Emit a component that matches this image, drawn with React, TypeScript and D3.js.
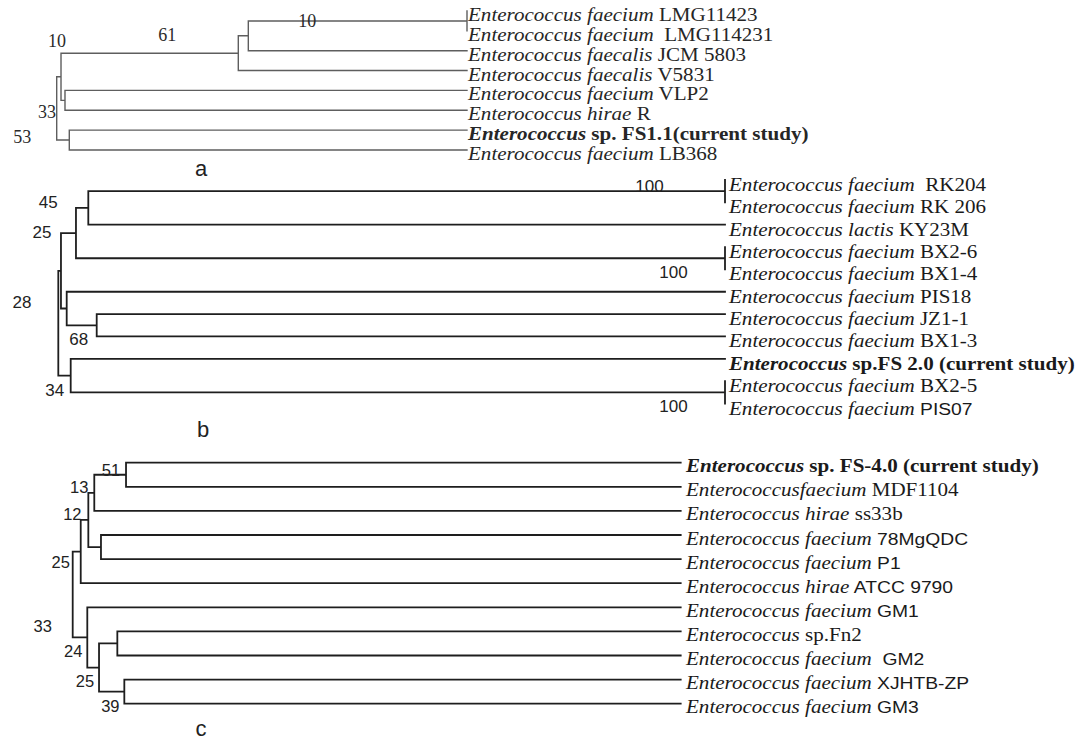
import React from "react";
import * as d3 from "d3";

// ---------- DATA ----------
type Leaf = { genus: string; epithet: string; strain: string; bold?: boolean; sans?: boolean };
type TNode = { id: string; children: (string | number)[]; dist: number; support: string };

const leavesA: Leaf[] = [
  { genus: "Enterococcus", epithet: " faecium", strain: " LMG11423" },
  { genus: "Enterococcus", epithet: " faecium", strain: "  LMG114231" },
  { genus: "Enterococcus", epithet: " faecalis", strain: " JCM 5803" },
  { genus: "Enterococcus", epithet: " faecalis", strain: " V5831" },
  { genus: "Enterococcus", epithet: " faecium", strain: " VLP2" },
  { genus: "Enterococcus", epithet: " hirae", strain: " R" },
  { genus: "Enterococcus", epithet: "", strain: " sp. FS1.1(current study)", bold: true },
  { genus: "Enterococcus", epithet: " faecium", strain: " LB368" },
];
const nodesA: TNode[] = [
  { id: "root", children: ["nX", "nF"], dist: 0, support: "" },
  { id: "nX", children: ["nV", "nVH"], dist: 1.05, support: "10" },
  { id: "nV", children: ["nJ", 3], dist: 44.26, support: "61" },
  { id: "nJ", children: ["p01", 2], dist: 46.7, support: "10" },
  { id: "p01", children: [0, 1], dist: 100, support: "" },
  { id: "nVH", children: [4, 5], dist: 2.02, support: "33" },
  { id: "nF", children: [6, 7], dist: 3.07, support: "53" },
];

const leavesB: Leaf[] = [
  { genus: "Enterococcus", epithet: " faecium", strain: "  RK204" },
  { genus: "Enterococcus", epithet: " faecium", strain: " RK 206" },
  { genus: "Enterococcus", epithet: " lactis", strain: " KY23M" },
  { genus: "Enterococcus", epithet: " faecium", strain: " BX2-6" },
  { genus: "Enterococcus", epithet: " faecium", strain: " BX1-4" },
  { genus: "Enterococcus", epithet: " faecium", strain: " PIS18" },
  { genus: "Enterococcus", epithet: " faecium", strain: " JZ1-1" },
  { genus: "Enterococcus", epithet: " faecium", strain: " BX1-3" },
  { genus: "Enterococcus", epithet: "", strain: " sp.FS 2.0 (current study)", bold: true },
  { genus: "Enterococcus", epithet: " faecium", strain: " BX2-5" },
  { genus: "Enterococcus", epithet: " faecium", strain: " PIS07", sans: true },
];
const nodesB: TNode[] = [
  { id: "root", children: ["nU", "n34"], dist: 0, support: "" },
  { id: "nU", children: ["n25", "nP"], dist: 0.4, support: "28" },
  { id: "n25", children: ["n45", "p34"], dist: 2.65, support: "25" },
  { id: "n45", children: ["p01", 2], dist: 4.5, support: "45" },
  { id: "p01", children: [0, 1], dist: 100, support: "100" },
  { id: "p34", children: [3, 4], dist: 100, support: "100" },
  { id: "nP", children: [5, "n68"], dist: 1.26, support: "" },
  { id: "n68", children: [6, 7], dist: 5.76, support: "68" },
  { id: "n34", children: [8, "p910"], dist: 1.86, support: "34" },
  { id: "p910", children: [9, 10], dist: 100, support: "100" },
];

const leavesC: Leaf[] = [
  { genus: "Enterococcus", epithet: "", strain: " sp. FS-4.0 (current study)", bold: true },
  { genus: "Enterococcus", epithet: "faecium", strain: " MDF1104" },
  { genus: "Enterococcus", epithet: " hirae", strain: " ss33b" },
  { genus: "Enterococcus", epithet: " faecium", strain: " 78MgQDC", sans: true },
  { genus: "Enterococcus", epithet: " faecium", strain: " P1", sans: true },
  { genus: "Enterococcus", epithet: " hirae", strain: " ATCC 9790", sans: true },
  { genus: "Enterococcus", epithet: " faecium", strain: " GM1", sans: true },
  { genus: "Enterococcus", epithet: "", strain: " sp.Fn2" },
  { genus: "Enterococcus", epithet: " faecium", strain: "  GM2", sans: true },
  { genus: "Enterococcus", epithet: " faecium", strain: " XJHTB-ZP", sans: true },
  { genus: "Enterococcus", epithet: " faecium", strain: " GM3", sans: true },
];
const nodesC: TNode[] = [
  { id: "root", children: ["n25a", "n24"], dist: 0, support: "33" },
  { id: "n25a", children: ["n12", 5], dist: 1.32, support: "25" },
  { id: "n12", children: ["n13", "nP1"], dist: 2.57, support: "12" },
  { id: "n13", children: ["n51", 2], dist: 3.55, support: "13" },
  { id: "n51", children: [0, 1], dist: 8.77, support: "51" },
  { id: "nP1", children: [3, 4], dist: 4.65, support: "" },
  { id: "n24", children: [6, "n25b"], dist: 2.4, support: "24" },
  { id: "n25b", children: ["nFn", "n39"], dist: 4.33, support: "25" },
  { id: "nFn", children: [7, 8], dist: 7.34, support: "" },
  { id: "n39", children: [9, 10], dist: 8.49, support: "39" },
];

const panelLetters = ["a", "b", "c"];

// ---------- LAYOUT ----------
const SERIF = "'Liberation Serif', 'Times New Roman', serif";
const SANS = "'Liberation Sans', Arial, sans-serif";
const SX = 1.17;

const layouts = [
  {
    leaves: leavesA, nodes: nodesA, rootX: 56.7, leafX: 467, y0: 11, dy: 19.85,
    textX: 468, baseOff: 10, stroke: "#5e5e5e", sw: 1.4, textColor: "#262626",
    supFont: SERIF, supSize: 18, supColor: "#2a2a2a",
    supOff: { nJ: [59, -15], nV: [-71, -18], nX: [-4, -36], nVH: [-18, 12], nF: [-47, -3] } as Record<string, number[]>,
    letter: [201, 176],
  },
  {
    leaves: leavesB, nodes: nodesB, rootX: 58.3, leafX: 725, y0: 180, dy: 22.35,
    textX: 729, baseOff: 11, stroke: "#1e1e1e", sw: 1.8, textColor: "#1a1a1a",
    supFont: SANS, supSize: 17, supColor: "#222",
    supOff: { n45: [-40, -5], n25: [-34, -1], nU: [-39, 32], n68: [-18, 14], n34: [-16, 15], p01: [-75.5, -5], p34: [-51.5, 14.5], p910: [-51.5, 14.5] } as Record<string, number[]>,
    letter: [203, 437],
  },
  {
    leaves: leavesC, nodes: nodesC, rootX: 72.7, leafX: 680.7, y0: 462.7, dy: 24.1,
    textX: 686, baseOff: 9.5, stroke: "#1e1e1e", sw: 1.8, textColor: "#1a1a1a",
    supFont: SANS, supSize: 16.5, supColor: "#222",
    supOff: { n51: [-15, -5], n13: [-15, -6], n12: [-16, -6], n25a: [-20, 10], root: [-30, 32], n24: [-14, 14], n25b: [-14, 13], n39: [-14, 14] } as Record<string, number[]>,
    letter: [201, 736],
  },
];

function buildTree(nodes: TNode[]) {
  const byId = new Map(nodes.map((n) => [n.id, n]));
  const make = (ref: string | number): any => {
    if (typeof ref === "number") return { leaf: ref, dist: 100, id: "L" + ref, support: "" };
    const n = byId.get(ref)!;
    return { id: n.id, dist: n.dist, support: n.support, kids: n.children.map(make) };
  };
  return d3.hierarchy(make("root"), (d: any) => d.kids);
}

function Panel({ cfg, letter }: { cfg: (typeof layouts)[number]; letter: string }) {
  const xs = d3.scaleLinear().domain([0, 100]).range([cfg.rootX, cfg.leafX]);
  const ys = d3.scaleLinear().domain([0, 1]).range([cfg.y0, cfg.y0 + cfg.dy]);
  const root: any = buildTree(cfg.nodes);
  root.eachAfter((n: any) => {
    n.px = xs(n.data.dist);
    n.py = n.children ? d3.mean(n.children, (c: any) => c.py) : ys(n.data.leaf);
  });
  const paths: string[] = [];
  root.each((n: any) => {
    if (n.parent && Math.abs(n.px - n.parent.px) > 0.01) {
      paths.push(`M${n.parent.px},${n.py}H${n.px}`);
    }
    if (n.children) {
      const ext = d3.extent(n.children, (c: any) => c.py) as [number, number];
      paths.push(`M${n.px},${ext[0]}V${ext[1]}`);
    }
  });
  const supports: any[] = [];
  root.each((n: any) => {
    if (n.data.support && cfg.supOff[n.data.id]) {
      const [dx, dy] = cfg.supOff[n.data.id];
      supports.push({ t: n.data.support, x: n.px + dx, y: n.py + dy, k: n.data.id });
    }
  });
  return (
    <g>
      <path d={paths.join("")} fill="none" stroke={cfg.stroke} strokeWidth={cfg.sw} strokeLinecap="square" />
      {cfg.leaves.map((lf, i) => (
        <text
          key={i}
          transform={`translate(${cfg.textX},${ys(i) + cfg.baseOff}) scale(${SX},1)`}
          fontFamily={SERIF}
          fontSize={18}
          fill={cfg.textColor}
          style={{ whiteSpace: "pre" }}
        >
          <tspan fontStyle="italic" fontWeight={lf.bold ? "bold" : "normal"}>
            {lf.genus + lf.epithet}
          </tspan>
          <tspan
            fontWeight={lf.bold ? "bold" : "normal"}
            fontFamily={lf.sans ? SANS : SERIF}
            fontSize={lf.sans ? 16.5 : 18}
          >
            {lf.strain}
          </tspan>
        </text>
      ))}
      {supports.map((s) => (
        <text
          key={s.k}
          x={s.x}
          y={s.y}
          textAnchor="middle"
          dominantBaseline="central"
          fontFamily={cfg.supFont}
          fontSize={cfg.supSize}
          fill={cfg.supColor}
        >
          {s.t}
        </text>
      ))}
      <text x={cfg.letter[0]} y={cfg.letter[1]} textAnchor="middle" fontFamily={SANS} fontSize={22} fill="#222">
        {letter}
      </text>
    </g>
  );
}

export default function App() {
  return (
    <svg
      width={1080}
      height={742}
      viewBox="0 0 1080 742"
      style={{ position: "absolute", left: 0, top: 0, background: "#fff" }}
    >
      <rect width={1080} height={742} fill="#fff" />
      {layouts.map((cfg, i) => (
        <Panel key={i} cfg={cfg} letter={panelLetters[i]} />
      ))}
    </svg>
  );
}
